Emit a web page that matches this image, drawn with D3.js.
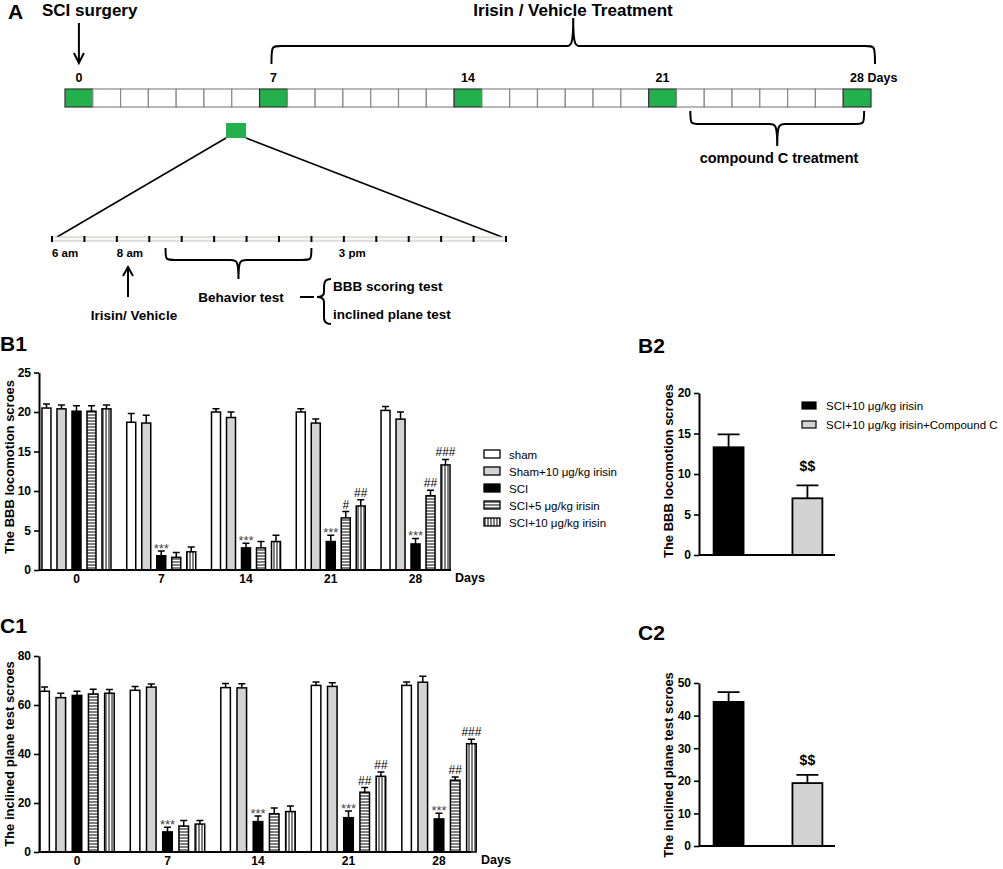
<!DOCTYPE html>
<html>
<head>
<meta charset="utf-8">
<script src="https://cdn.jsdelivr.net/npm/d3@7"></script>
<style>
  body { margin: 0; background: #fff; }
  text { font-family: "Liberation Sans", Arial, sans-serif; }
</style>
</head>
<body>
<svg id="fig"></svg>
<script>
// ---- data ----
const days = [0, 7, 14, 21, 28];
const groups = ["sham", "Sham+10 μg/kg irisin", "SCI", "SCI+5 μg/kg irisin", "SCI+10 μg/kg irisin"];

// BBB locomotion scores (mean, SEM) per group across days
const bbbSham     = [20.5, 18.7, 20.0, 20.0, 20.2];
const bbbShamIr   = [20.4, 18.6, 19.3, 18.6, 19.1];
const bbbSci      = [20.1, 1.8, 2.8, 3.6, 3.3];
const bbbSci5     = [20.1, 1.6, 2.8, 6.6, 9.4];
const bbbSci10    = [20.4, 2.3, 3.6, 8.1, 13.3];
const bbbSemSham   = [0.5, 1.1, 0.4, 0.4, 0.5];
const bbbSemShamIr = [0.5, 1.0, 0.7, 0.5, 0.9];
const bbbSemSci    = [0.7, 0.6, 0.6, 0.8, 0.7];
const bbbSemSci5   = [0.7, 0.6, 0.8, 0.8, 0.7];
const bbbSemSci10  = [0.5, 0.6, 0.8, 0.8, 0.7];

// inclined plane test scores
const incSham     = [65.6, 66.0, 67.1, 68.0, 68.0];
const incShamIr   = [63.0, 67.3, 67.0, 67.6, 69.3];
const incSci      = [63.9, 8.2, 12.4, 14.0, 13.5];
const incSci5     = [64.5, 10.6, 15.6, 24.4, 29.3];
const incSci10    = [64.8, 11.4, 16.5, 30.9, 44.2];
const incSemSham   = [1.7, 1.6, 1.7, 1.4, 1.4];
const incSemShamIr = [1.8, 1.3, 1.7, 1.5, 2.4];
const incSemSci    = [1.7, 1.9, 2.3, 2.7, 2.3];
const incSemSci5   = [1.9, 2.3, 2.4, 1.9, 1.3];
const incSemSci10  = [1.5, 1.5, 2.3, 1.8, 1.8];

// significance marks: [day index, group index, label]
const bbbMarks = [[1, 2, "***"], [2, 2, "***"], [3, 2, "***"], [4, 2, "***"],
                  [3, 3, "#"], [3, 4, "##"], [4, 3, "##"], [4, 4, "###"]];
const incMarks = [[1, 2, "***"], [2, 2, "***"], [3, 2, "***"], [4, 2, "***"],
                  [3, 3, "##"], [3, 4, "##"], [4, 3, "##"], [4, 4, "###"]];

// B2 / C2
const cGroups = ["SCI+10 μg/kg irisin", "SCI+10 μg/kg irisin+Compound C"];
const bbbCompMean = [13.3, 7.0];
const bbbCompSem  = [1.6, 1.6];
const incCompMean = [44.2, 19.3];
const incCompSem  = [3.0, 2.5];

// timeline
const timelineDays = d3.range(0, 29);
const greenDays = [0, 7, 14, 21, 28];
const hourSlots = d3.range(0, 15);
const hourLabels = [[0, "6 am"], [2, "8 am"], [9, "3 pm"]];

// ---- setup ----
const W = 1003, H = 869;
const svg = d3.select("#fig").attr("width", W).attr("height", H)
    .attr("viewBox", [0, 0, W, H]);

const defs = svg.append("defs");
defs.append("pattern").attr("id", "hstripe").attr("patternUnits", "userSpaceOnUse")
    .attr("width", 4).attr("height", 3)
  .call(p => p.append("rect").attr("width", 4).attr("height", 3).attr("fill", "#fff"))
  .call(p => p.append("line").attr("x1", 0).attr("x2", 4).attr("y1", 1).attr("y2", 1)
      .attr("stroke", "#000").attr("stroke-width", 1));
defs.append("pattern").attr("id", "vstripe").attr("patternUnits", "userSpaceOnUse")
    .attr("width", 3).attr("height", 4)
  .call(p => p.append("rect").attr("width", 3).attr("height", 4).attr("fill", "#fff"))
  .call(p => p.append("line").attr("y1", 0).attr("y2", 4).attr("x1", 1).attr("x2", 1)
      .attr("stroke", "#000").attr("stroke-width", 1));

const fills = ["#fff", "#d3d3d3", "#000", "url(#hstripe)", "url(#vstripe)"];

function label(x, y, t, size, weight = "bold", anchor = "start") {
  return svg.append("text").attr("x", x).attr("y", y)
      .attr("font-size", size).attr("font-weight", weight)
      .attr("text-anchor", anchor).text(t);
}

// ---- panel A: timeline ----
label(8, 19, "A", 21);
label(42, 16, "SCI surgery", 17);
label(573, 16, "Irisin / Vehicle Treatment", 17, "bold", "middle");

const xDay = d3.scaleBand().domain(timelineDays).range([65, 871]);
const bw = xDay.bandwidth();
svg.append("g").selectAll("rect").data(timelineDays).join("rect")
    .attr("x", d => xDay(d)).attr("y", 89)
    .attr("width", bw).attr("height", 18)
    .attr("fill", d => greenDays.includes(d) ? "#22b14c" : "#fff")
    .attr("stroke", d => greenDays.includes(d) ? "#333" : "#888")
    .attr("stroke-width", 1.2);

svg.append("g").selectAll("text").data(greenDays).join("text")
    .attr("x", d => d === 28 ? xDay(d) + bw / 2 - 7 : xDay(d) + bw / 2)
    .attr("y", 82)
    .attr("text-anchor", d => d === 28 ? "start" : "middle")
    .attr("font-size", 12.5).attr("font-weight", "bold")
    .text(d => d === 28 ? "28 Days" : d);

// arrow for surgery
const cx0 = xDay(0) + bw / 2;
svg.append("path").attr("d", `M${cx0},23 L${cx0},63 M${cx0 - 5},53 L${cx0},63 L${cx0 + 5},53`)
    .attr("fill", "none").attr("stroke", "#000").attr("stroke-width", 2);

// braces
function hBrace(x1, x2, yEnd, yBar, yTip) {
  const m = (x1 + x2) / 2;
  return `M${x1},${yEnd} C${x1},${yBar} ${x1},${yBar} ${x1 + 10},${yBar} ` +
         `L${m - 8},${yBar} C${m - 2},${yBar} ${m},${yBar} ${m},${yTip} ` +
         `C${m},${yBar} ${m + 2},${yBar} ${m + 8},${yBar} ` +
         `L${x2 - 10},${yBar} C${x2},${yBar} ${x2},${yBar} ${x2},${yEnd}`;
}
svg.append("path").attr("d", hBrace(xDay(7) + bw / 2 - 2, xDay(28) + bw + 4, 64, 46, 18))
    .attr("fill", "none").attr("stroke", "#000").attr("stroke-width", 2);
svg.append("path").attr("d", hBrace(xDay(22) + bw / 2, xDay(28) + bw / 2 + 7, 111, 124, 146))
    .attr("fill", "none").attr("stroke", "#000").attr("stroke-width", 2);
label(779, 163, "compound C treatment", 14.5, "bold", "middle");

// zoomed day
svg.append("rect").attr("x", 226).attr("y", 123).attr("width", 20).attr("height", 15)
    .attr("fill", "#22b14c");
svg.append("path").attr("d", "M226,138 L57,237 M246,138 L502,237")
    .attr("stroke", "#000").attr("stroke-width", 1.5).attr("fill", "none");

const xHour = d3.scaleLinear().domain([0, 14]).range([52, 506]);
svg.append("rect").attr("x", xHour(0)).attr("y", 237).attr("width", xHour(14) - xHour(0))
    .attr("height", 4).attr("fill", "#f6f6f2").attr("stroke", "#bbb").attr("stroke-width", 0.8);
svg.append("g").selectAll("line").data(hourSlots).join("line")
    .attr("x1", d => xHour(d)).attr("x2", d => xHour(d))
    .attr("y1", 236).attr("y2", 242)
    .attr("stroke", "#000").attr("stroke-width", 2);
svg.append("g").selectAll("text").data(hourLabels).join("text")
    .attr("x", d => xHour(d[0]) + (d[0] === 9 ? -5 : 0)).attr("y", 257)
    .attr("font-size", 11.5).attr("font-weight", "bold").text(d => d[1]);

svg.append("path").attr("d", hBrace(xHour(3.5), xHour(8), 248, 260, 279))
    .attr("fill", "none").attr("stroke", "#000").attr("stroke-width", 2);
label(241, 302, "Behavior test", 13.5, "bold", "middle");
svg.append("path").attr("d", "M128,297 L128,267 M123,276 L128,267 L133,276")
    .attr("fill", "none").attr("stroke", "#000").attr("stroke-width", 2);
label(134, 320, "Irisin/ Vehicle", 13.5, "bold", "middle");
svg.append("path").attr("d", "M300,297 L314,297").attr("stroke", "#000").attr("stroke-width", 2);
svg.append("path")
    .attr("d", "M331,279 C325,279 324,282 324,288 L324,292 C324,296 321,297 317,297 " +
               "C321,297 324,298 324,302 L324,318 C324,322 326,324 331,324")
    .attr("fill", "none").attr("stroke", "#000").attr("stroke-width", 2);
label(333, 291, "BBB scoring test", 13.5);
label(333, 319, "inclined plane test", 13.5);

// ---- grouped bar charts ----
function styleAxis(g) {
  g.select(".domain").attr("stroke-width", 2);
  g.selectAll(".tick line").attr("stroke-width", 1.6);
  g.selectAll(".tick text").attr("font-size", 12).attr("font-weight", "bold")
      .attr("font-family", "Liberation Sans, Arial, sans-serif").attr("fill", "#000");
}

function groupedChart(o) {
  const g = svg.append("g");
  const y = d3.scaleLinear().domain([0, o.yMax]).range(o.yRange);
  const x0 = d3.scaleBand().domain(days).range(o.xRange);
  const x1 = d3.scaleBand().domain(d3.range(5))
      .range([-o.inner / 2, o.inner / 2]).paddingInner(o.pad);
  const bx = (di, gi) => x0(days[di]) + x0.bandwidth() / 2 + x1(gi);

  o.means.forEach((ser, gi) => {
    const sg = g.append("g");
    sg.selectAll("rect").data(ser).join("rect")
        .attr("x", (d, di) => bx(di, gi)).attr("y", d => y(d))
        .attr("width", x1.bandwidth()).attr("height", d => y(0) - y(d))
        .attr("fill", fills[gi]).attr("stroke", "#000").attr("stroke-width", 1.5);
    sg.selectAll("path").data(ser).join("path")
        .attr("d", (d, di) => {
          const c = bx(di, gi) + x1.bandwidth() / 2, yt = y(d + o.sems[gi][di]);
          return `M${c},${y(d)} L${c},${yt} M${c - 3.5},${yt} L${c + 3.5},${yt}`;
        })
        .attr("stroke", "#000").attr("stroke-width", 1.5).attr("fill", "none");
  });

  g.selectAll(".mark").data(o.marks).join("text")
      .attr("x", d => bx(d[0], d[1]) + x1.bandwidth() / 2)
      .attr("y", d => y(o.means[d[1]][d[0]] + o.sems[d[1]][d[0]]) - (d[2][0] === "*" ? -2 : 3))
      .attr("text-anchor", "middle")
      .attr("font-size", d => d[2][0] === "*" ? 13 : 12)
      .attr("fill", d => d[2][0] === "*" ? "#444" : "#000")
      .text(d => d[2]);

  g.append("g").attr("transform", `translate(${o.xAxis[0]},0)`)
      .call(d3.axisLeft(y).tickValues(o.yTicks).tickSize(5).tickSizeOuter(0).tickPadding(3))
      .call(styleAxis);
  g.append("line").attr("x1", o.xAxis[0]).attr("x2", o.xAxis[1])
      .attr("y1", y(0)).attr("y2", y(0)).attr("stroke", "#000").attr("stroke-width", 2);
  g.append("g").attr("transform", `translate(0,${y(0)})`)
      .call(d3.axisBottom(x0).tickSize(0).tickPadding(4))
      .call(g => g.select(".domain").remove())
      .call(styleAxis);
  label(o.daysX, y(0) + 12, "Days", 12.5);

  svg.append("text")
      .attr("transform", `translate(${o.labelPos[0]},${o.labelPos[1]}) rotate(-90)`)
      .attr("text-anchor", "middle").attr("font-size", 13).attr("font-weight", "bold")
      .text(o.ylabel);
}

// B1
label(0, 351, "B1", 21);
groupedChart({
  yMax: 25, yRange: [570, 372.5], yTicks: [0, 5, 10, 15, 20, 25],
  xRange: [34.1, 457.9], inner: 69, pad: 0.4, xAxis: [39, 451], daysX: 455,
  means: [bbbSham, bbbShamIr, bbbSci, bbbSci5, bbbSci10],
  sems: [bbbSemSham, bbbSemShamIr, bbbSemSci, bbbSemSci5, bbbSemSci10],
  marks: bbbMarks, ylabel: "The BBB locomotion scroes", labelPos: [14, 467]
});

// B1 legend
const leg = svg.append("g").attr("transform", "translate(484,450)");
leg.selectAll("rect").data(groups).join("rect")
    .attr("x", 0).attr("y", (d, i) => i * 17).attr("width", 16).attr("height", 8)
    .attr("fill", (d, i) => fills[i]).attr("stroke", "#000").attr("stroke-width", 1.3);
leg.selectAll("text").data(groups).join("text")
    .attr("x", 25).attr("y", (d, i) => i * 17 + 9)
    .attr("font-size", 11.5).text(d => d);

// C1
label(0, 633, "C1", 21);
groupedChart({
  yMax: 80, yRange: [852, 656], yTicks: [0, 20, 40, 60, 80],
  xRange: [31.75, 484.25], inner: 74.4, pad: 0.41, xAxis: [39, 471], daysX: 481,
  means: [incSham, incShamIr, incSci, incSci5, incSci10],
  sems: [incSemSham, incSemShamIr, incSemSci, incSemSci5, incSemSci10],
  marks: incMarks, ylabel: "The inclined plane test scroes", labelPos: [14, 754]
});

// ---- two-bar charts ----
const compFills = ["#000", "#d3d3d3"];
function compChart(o) {
  const g = svg.append("g");
  const y = d3.scaleLinear().domain([0, o.yMax]).range(o.yRange);
  const x = d3.scaleBand().domain(cGroups).range([701, 835]).paddingInner(0.62).paddingOuter(0.16);
  g.selectAll("rect").data(o.means).join("rect")
      .attr("x", (d, i) => x(cGroups[i])).attr("y", d => y(d))
      .attr("width", x.bandwidth()).attr("height", d => y(0) - y(d))
      .attr("fill", (d, i) => compFills[i]).attr("stroke", "#000").attr("stroke-width", 1.8);
  g.selectAll("path.err").data(o.means).join("path")
      .attr("d", (d, i) => {
        const c = x(cGroups[i]) + x.bandwidth() / 2, yt = y(d + o.sems[i]);
        return `M${c},${y(d)} L${c},${yt} M${c - 11},${yt} L${c + 11},${yt}`;
      })
      .attr("stroke", "#000").attr("stroke-width", 1.8).attr("fill", "none");
  g.append("text")
      .attr("x", x(cGroups[1]) + x.bandwidth() / 2)
      .attr("y", y(o.means[1] + o.sems[1]) - o.sigGap)
      .attr("text-anchor", "middle").attr("font-size", 14).attr("font-weight", "bold").text("$$");
  g.append("g").attr("transform", "translate(699,0)")
      .call(d3.axisLeft(y).tickValues(o.yTicks).tickSize(5).tickSizeOuter(0).tickPadding(3))
      .call(styleAxis);
  g.append("line").attr("x1", 699).attr("x2", 835).attr("y1", y(0)).attr("y2", y(0))
      .attr("stroke", "#000").attr("stroke-width", 2);
  svg.append("text")
      .attr("transform", `translate(${o.labelPos[0]},${o.labelPos[1]}) rotate(-90)`)
      .attr("text-anchor", "middle").attr("font-size", 13).attr("font-weight", "bold")
      .text(o.ylabel);
}

label(638, 353, "B2", 21);
compChart({ yMax: 20, yRange: [555, 393], yTicks: [0, 5, 10, 15, 20],
  means: bbbCompMean, sems: bbbCompSem, sigGap: 14,
  ylabel: "The BBB locomotion scroes", labelPos: [673, 471] });

const leg2 = svg.append("g").attr("transform", "translate(802,402)");
leg2.selectAll("rect").data(cGroups).join("rect")
    .attr("x", 0).attr("y", (d, i) => i * 19).attr("width", 14).attr("height", 7)
    .attr("fill", (d, i) => compFills[i]).attr("stroke", "#000").attr("stroke-width", 1.2);
leg2.selectAll("text").data(cGroups).join("text")
    .attr("x", 24).attr("y", (d, i) => i * 19 + 8)
    .attr("font-size", 11.5).text(d => d);

label(638, 640, "C2", 21);
compChart({ yMax: 50, yRange: [846, 683], yTicks: [0, 10, 20, 30, 40, 50],
  means: incCompMean, sems: incCompSem, sigGap: 10,
  ylabel: "The inclined plane test scroes", labelPos: [673, 765] });
</script>
</body>
</html>
